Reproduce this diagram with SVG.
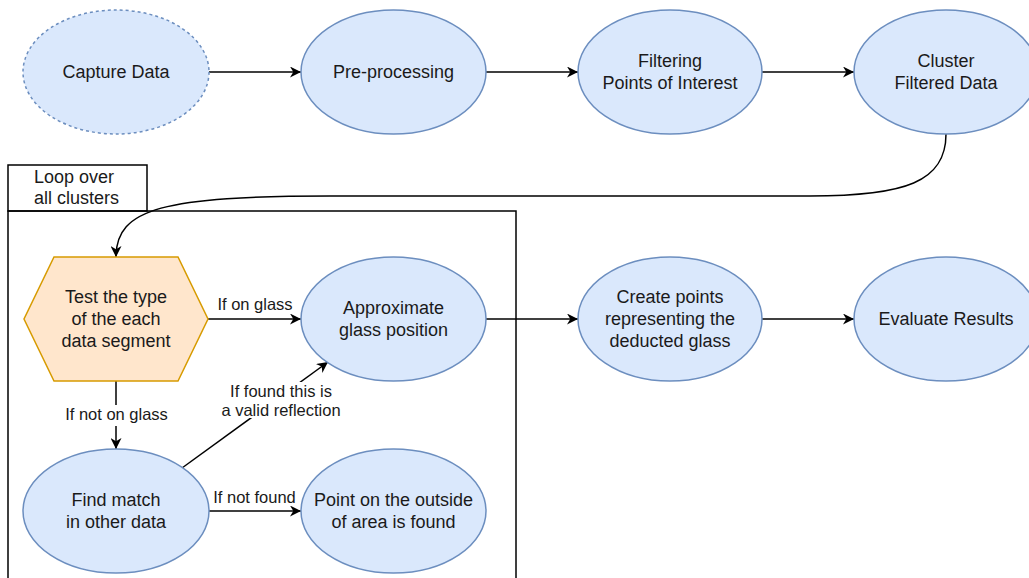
<svg xmlns="http://www.w3.org/2000/svg" width="1029" height="578" viewBox="0 0 1029 578">
<style>
.node{fill:#dae8fc;stroke:#6c8ebf;stroke-width:1.5}
.dec{fill:#ffe6cc;stroke:#d79b00;stroke-width:1.5}
.t{font-family:"Liberation Sans",Arial,sans-serif;font-size:18px;fill:#1a1a1a;text-anchor:middle}
.l{font-family:"Liberation Sans",Arial,sans-serif;font-size:16.5px;fill:#1a1a1a;text-anchor:middle}
.e{fill:none;stroke:#000;stroke-width:1.5}
.box{fill:none;stroke:#000;stroke-width:1.5}
</style>
<defs>
<marker id="arr" viewBox="0 0 10 10" refX="10" refY="5" markerWidth="13" markerHeight="11" markerUnits="userSpaceOnUse" orient="auto">
<path d="M0,0 L10,5 L0,10 L3,5 z" fill="#000"/>
</marker>
</defs>
<rect width="1029" height="578" fill="#fff"/>
<g id="loop">
<rect class="box" x="8" y="165" width="139" height="46" fill="#fff"/>
<rect class="box" x="8" y="211" width="508" height="380"/>
<text class="t" x="34" y="183" style="text-anchor:start">Loop over</text>
<text class="t" x="34" y="204" style="text-anchor:start">all clusters</text>
</g>
<g id="connectors">
<path class="e" d="M209,72 L301,72" marker-end="url(#arr)"/>
<path class="e" d="M486,72 L578,72" marker-end="url(#arr)"/>
<path class="e" d="M762,72 L854,72" marker-end="url(#arr)"/>
<path class="e" d="M946,134 C946,182 905,196 810,196 L330,196 C165,196 116,208 116,257" marker-end="url(#arr)"/>
<path class="e" d="M208,319 L301,319" marker-end="url(#arr)"/>
<path class="e" d="M486,319 L578,319" marker-end="url(#arr)"/>
<path class="e" d="M762,319 L854,319" marker-end="url(#arr)"/>
<path class="e" d="M116,381 L116,449" marker-end="url(#arr)"/>
<path class="e" d="M182,468 L328,362" marker-end="url(#arr)"/>
<path class="e" d="M209,511 L301,511" marker-end="url(#arr)"/>
<text class="l" x="255" y="310">If on glass</text>
<rect x="62" y="405" width="109" height="21" fill="#fff"/>
<text class="l" x="116.5" y="420">If not on glass</text>
<rect x="222" y="382" width="120" height="36" fill="#fff"/>
<text class="l" x="281" y="397">If found this is</text>
<text class="l" x="281" y="416">a valid reflection</text>
<text class="l" x="254.5" y="503">If not found</text>
</g>
<g id="capture">
<ellipse class="node" cx="116" cy="72" rx="93" ry="62" stroke-dasharray="3 3"/>
<text class="t" x="116" y="78">Capture Data</text>
</g>
<g id="preprocessing">
<ellipse class="node" cx="393.5" cy="72" rx="92.5" ry="62"/>
<text class="t" x="393.5" y="78">Pre-processing</text>
</g>
<g id="filtering">
<ellipse class="node" cx="670" cy="72" rx="92" ry="62"/>
<text class="t" x="670" y="67">Filtering</text>
<text class="t" x="670" y="89">Points of Interest</text>
</g>
<g id="cluster">
<ellipse class="node" cx="946" cy="72" rx="92" ry="62"/>
<text class="t" x="946" y="67">Cluster</text>
<text class="t" x="946" y="89">Filtered Data</text>
</g>
<g id="test">
<polygon class="dec" points="54,257 178,257 208,319 178,381 54,381 24,319"/>
<text class="t" x="116" y="303">Test the type</text>
<text class="t" x="116" y="325">of the each</text>
<text class="t" x="116" y="347">data segment</text>
</g>
<g id="approx">
<ellipse class="node" cx="393.5" cy="319" rx="92.5" ry="62"/>
<text class="t" x="393.5" y="314">Approximate</text>
<text class="t" x="393.5" y="336">glass position</text>
</g>
<g id="create">
<ellipse class="node" cx="670" cy="319" rx="92" ry="62"/>
<text class="t" x="670" y="303">Create points</text>
<text class="t" x="670" y="325">representing the</text>
<text class="t" x="670" y="347">deducted glass</text>
</g>
<g id="evaluate">
<ellipse class="node" cx="946" cy="319" rx="92" ry="62"/>
<text class="t" x="946" y="325">Evaluate Results</text>
</g>
<g id="findmatch">
<ellipse class="node" cx="116" cy="511" rx="93" ry="62"/>
<text class="t" x="116" y="506">Find match</text>
<text class="t" x="116" y="528">in other data</text>
</g>
<g id="outside">
<ellipse class="node" cx="393.5" cy="511" rx="92.5" ry="62"/>
<text class="t" x="393.5" y="506">Point on the outside</text>
<text class="t" x="393.5" y="528">of area is found</text>
</g>
</svg>
